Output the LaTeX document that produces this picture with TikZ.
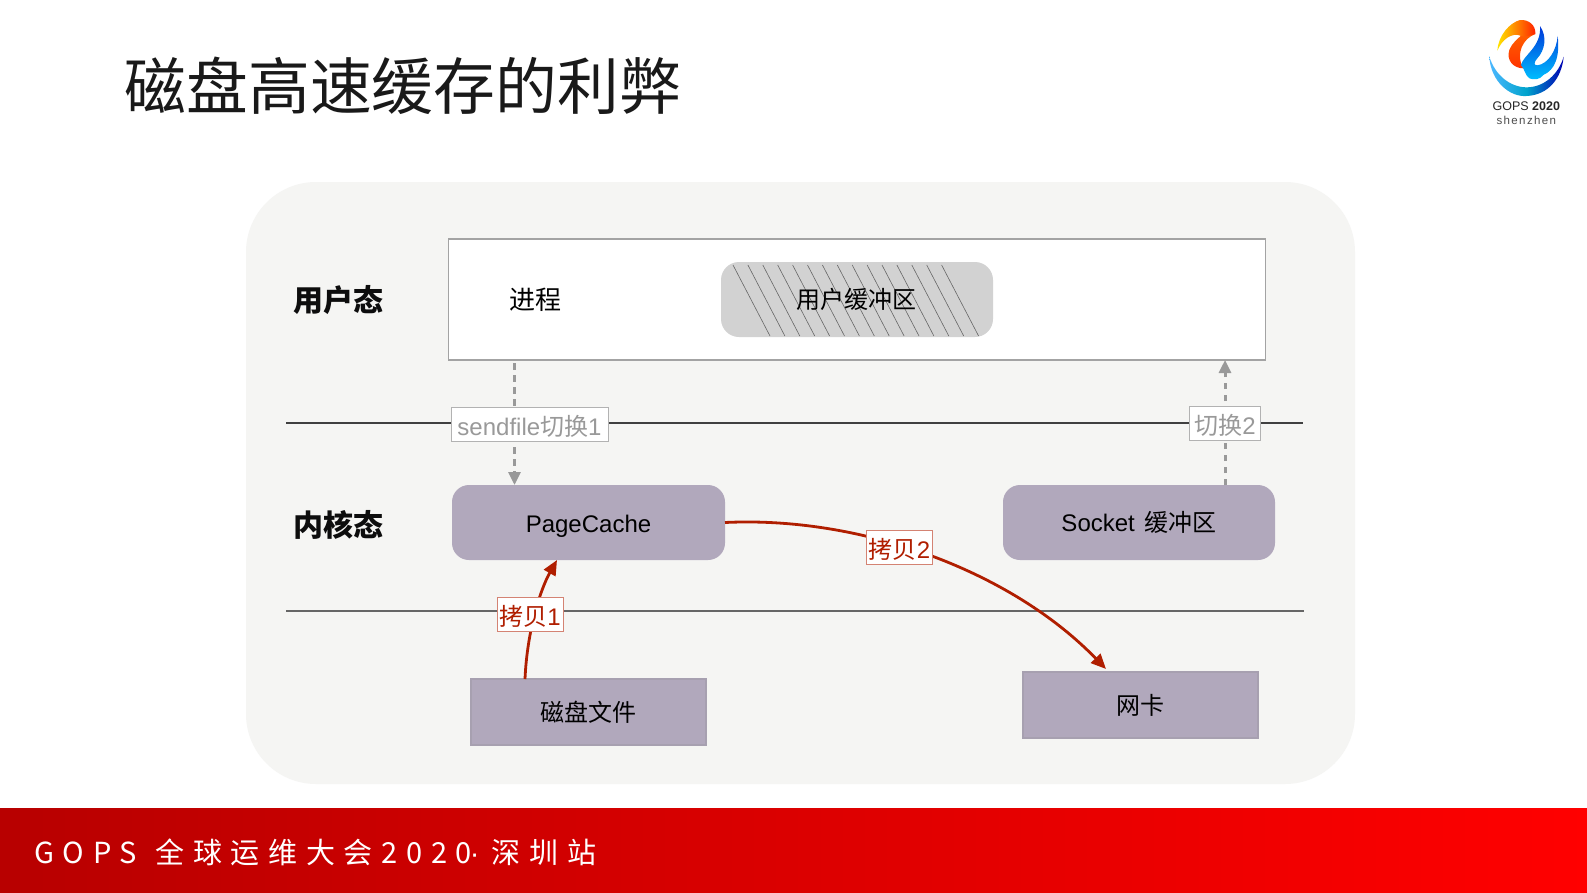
\documentclass[tikz,border=0pt]{standalone}
\usepackage{fontspec}
\setmainfont{Liberation Sans}
\newfontfamily\cjk{Noto Sans CJK SC}
\newfontfamily\bandfont[LetterSpace=30]{Noto Sans CJK SC}
\newfontfamily\logofont[LetterSpace=12]{Liberation Sans}
\usetikzlibrary{arrows.meta}
\newcommand{\fs}[1]{\fontsize{#1}{#1}\selectfont}
\definecolor{panelc}{HTML}{F5F5F3}
\definecolor{boxc}{HTML}{B1A8BC}
\definecolor{bufc}{HTML}{D2D2D2}
\definecolor{redc}{HTML}{B01E00}
\definecolor{greyc}{HTML}{999999}
\tikzset{
  box/.style={minimum width=#1,inner sep=0pt,outer sep=0pt,fill=boxc,text=black,font=\cjk\fs{24}},
  rbox/.style={box=#1,rounded corners=17pt,minimum height=75pt},
  sbox/.style={box=#1,draw=boxc!80!gray,line width=1.2pt,minimum height=66pt},
  tag/.style={draw=#1,fill=white,line width=1pt,inner sep=0pt,outer sep=0pt,minimum height=34pt,text height=22pt,text depth=0pt},
  dasharrow/.style={draw=greyc,line width=3pt,dash pattern=on 6.5pt off 5.5pt,-{Triangle[length=13pt,width=12pt]}},
  redarrow/.style={draw=redc,line width=2.8pt,-{Triangle[length=15pt,width=13pt]}},
  zone/.style={inner sep=0pt,font=\cjk\bfseries\fs{30},text=black!95},
  hatch/.style={draw=black!60,line width=0.6pt},
  divider/.style={line width=1.3pt,draw=#1}
}
\begin{document}
\begin{tikzpicture}[x=1pt,y=-1pt]
\useasboundingbox (0,0) rectangle (1587,892);
\fill[white] (0,0) rectangle (1587,892);
% title
\node[anchor=west,inner sep=0pt,font=\cjk\fs{61.8},text=black!90] (title) at (124.5,86) {磁盘高速缓存的利弊};
% panel
\node[fill=panelc,rounded corners=70pt,minimum width=1109pt,minimum height=602pt,inner sep=0pt] (panel) at (800.5,483) {};
% user space
\node[draw=black!36,fill=white,line width=1.2pt,minimum width=817pt,minimum height=121pt,inner sep=0pt,outer sep=0pt] (main) at (857,299.5) {};
\node[fill=bufc,rounded corners=18pt,minimum width=272pt,minimum height=75pt,inner sep=0pt] (buf) at (857,299.5) {};
\foreach \i in {0,...,14}
  \draw[hatch] ({733+14.9*\i},265) -- ({770+14.9*\i},336);
\node[inner sep=0pt,font=\cjk\fs{24}] (buftext) at (856,299.5) {用户缓冲区};
\node[inner sep=0pt,font=\cjk\fs{26}] (proc) at (535,299.5) {进程};
\node[zone] (uz) at (338,300.5) {用户态};
\node[zone] (kz) at (338,524.5) {内核态};
% dividers
\coordinate (l1a) at (286,423); \coordinate (l1b) at (1303,423);
\coordinate (l2a) at (286,611); \coordinate (l2b) at (1304,611);
\draw[divider=black!75] (l1a) -- (l1b);
\draw[divider=black!60] (l2a) -- (l2b);
% boxes
\node[rbox=273pt,text height=20pt,text depth=0pt] (pc) at (588.5,522.5) {\fontspec{Liberation Sans}PageCache};
\node[rbox=272pt] (sock) at (1139,522.5) {\fontspec{Liberation Sans}Socket\ \hspace{3pt}{\cjk 缓冲区}};
\node[sbox=235pt] (file) at (588.5,712) {磁盘文件};
\node[sbox=235pt] (nic) at (1140.5,705) {网卡};
% connectors
\coordinate (sx) at (514.5,400);
\coordinate (ex) at (1225,400);
\coordinate (r1s) at (525,700);
\coordinate (r1e) at (557,540);
\coordinate (r2e) at (1106,669);
\draw[dasharrow] (main.south -| sx) ++(0,3) -- (pc.north -| sx);
\draw[dasharrow] (sock.north -| ex) -- (main.south -| ex);
\draw[redarrow] (r1s |- file.north) .. controls (527,632) and (540,590) .. (r1e |- pc.south);
\draw[redarrow] (pc.east) .. controls (860,516) and (1010,570) .. (r2e);
% tags
\node[tag=black!30,text=greyc,minimum width=157pt,font=\fs{24}] (t1) at (529.5,424.5) {sendfile{\cjk 切换}1};
\node[tag=black!30,text=greyc,minimum width=71pt,font=\fs{24}] (t2) at (1225,423) {{\cjk 切换}2};
\node[tag=redc!55,text=redc,minimum width=66pt,font=\fs{24}] (t3) at (530,614.5) {{\cjk 拷贝}1};
\node[tag=redc!55,text=redc,minimum width=66pt,font=\fs{24}] (t4) at (899.5,547) {{\cjk 拷贝}2};
% footer band
\shade[left color=red!72!black,right color=red] (0,808) rectangle (1587,892);
\node[anchor=west,inner sep=0pt,text=white,font=\bandfont\fs{29}] (band) at (34,852.5) {GOPS\hspace{3pt} 全球运维大会2020\hspace{-2pt}{\fontspec{Liberation Sans}·}\hspace{12pt}深圳站};
% logo
\begin{scope}[shift={(1460,0)},x=0.3333pt,y=-0.3333pt]
  \shade[left color=cyan!60!blue!70,right color=blue!70!black,middle color=blue!20!cyan!80!black]
    (88,170) .. controls (92,245) and (150,292) .. (200,288) .. controls (265,285) and (305,235) .. (311,170)
    .. controls (295,225) and (250,262) .. (200,262) .. controls (150,262) and (105,225) .. (88,170) -- cycle;
  \shade[top color=orange!75!red,bottom color=red!60!orange]
    (226,102) .. controls (190,115) and (165,160) .. (190,205) .. controls (160,205) and (138,180) .. (148,150)
    .. controls (155,130) and (172,118) .. (190,100) -- cycle;
  \shade[shading angle=65,left color=yellow!80!orange,right color=red!75!orange]
    (112,152) .. controls (115,105) and (150,68) .. (180,60) .. controls (205,58) and (228,75) .. (226,102)
    .. controls (205,108) and (195,112) .. (184,108)
    .. controls (155,95) and (125,120) .. (112,152) -- cycle;
  \shade[top color=blue!75!cyan!85!black,bottom color=cyan!75!blue]
    (240,78) .. controls (262,110) and (255,150) .. (232,175) .. controls (222,186) and (220,196) .. (232,196)
    .. controls (265,192) and (290,150) .. (293,108) .. controls (300,170) and (285,210) .. (250,225)
    .. controls (240,240) and (220,240) .. (208,235) .. controls (195,225) and (195,210) .. (183,195)
    .. controls (190,165) and (245,140) .. (240,78) -- cycle;
  \node[inner sep=0pt,font=\fs{12.5},text=black!85] (logo1) at (199,318) {\fontspec{Liberation Sans}GOPS \textbf{2020}};
  \node[inner sep=0pt,font=\logofont\fs{11.5},text=black!70] (logo2) at (199,362) {shenzhen};
\end{scope}
\end{tikzpicture}
\end{document}
